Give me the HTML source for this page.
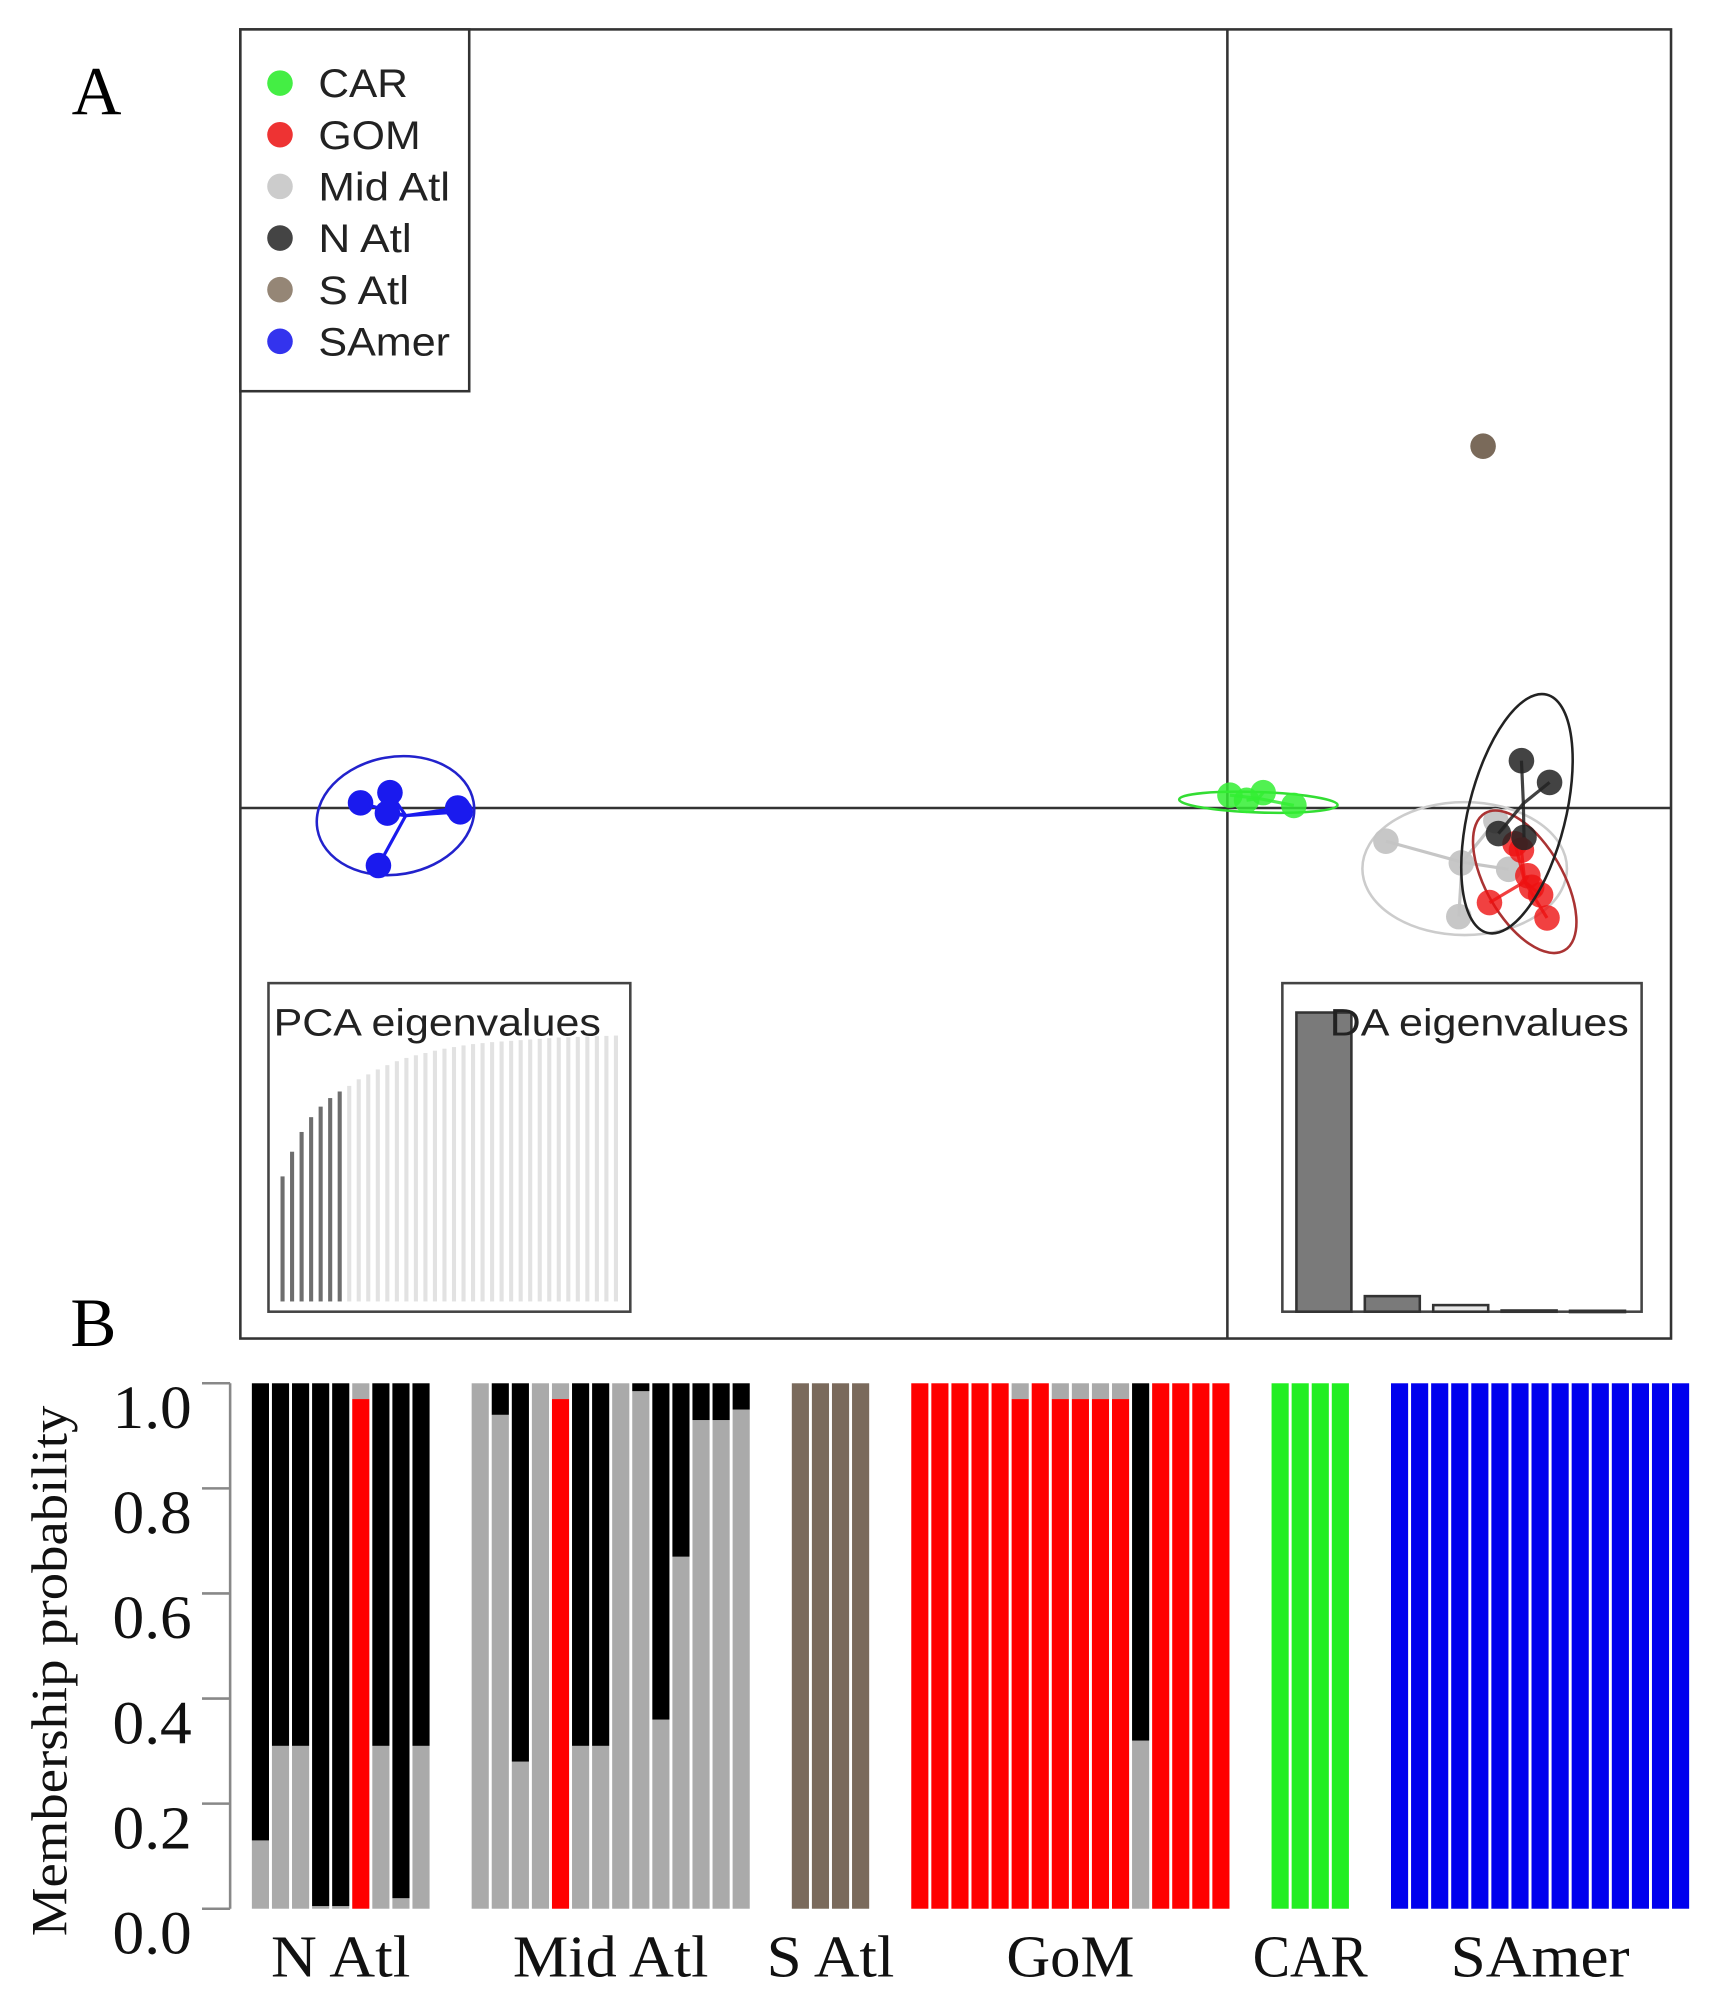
<!DOCTYPE html>
<html><head><meta charset="utf-8"><style>
html,body{margin:0;padding:0;background:#fff}
svg{display:block}
</style></head><body>
<svg id="fig" width="1726" height="2011" viewBox="0 0 1350 1573" preserveAspectRatio="none" xmlns="http://www.w3.org/2000/svg">
<rect x="0" y="0" width="1350" height="1573" fill="#fff"/>
<g id="panelA">
<text x="56" y="89" font-family="Liberation Serif, serif" font-size="54">A</text>
<rect x="188" y="23" width="1119" height="1024" fill="none" stroke="#333" stroke-width="2"/>
<line x1="960" y1="23" x2="960" y2="1047" stroke="#333" stroke-width="2"/>
<line x1="188" y1="632" x2="1307" y2="632" stroke="#333" stroke-width="2"/>
<g id="clusters"></g>
<g>
<rect x="188" y="23" width="179" height="283" fill="#fff" stroke="#333" stroke-width="2"/>
<g id="legendItems"></g>
</g>
<g>
<rect x="210" y="769" width="283" height="257" fill="#fff" stroke="#444" stroke-width="2"/>
<g id="pcaBars"></g>
<text x="214" y="810" textLength="256" lengthAdjust="spacingAndGlyphs" font-family="Liberation Sans, sans-serif" font-size="30" fill="#222">PCA eigenvalues</text>
</g>
<g>
<rect x="1003" y="769" width="281" height="257" fill="#fff" stroke="#444" stroke-width="2"/>
<g id="daBars"></g>
<text x="1040" y="810" textLength="234" lengthAdjust="spacingAndGlyphs" font-family="Liberation Sans, sans-serif" font-size="30" fill="#222">DA eigenvalues</text>
</g>
</g>
<g id="panelB">
<text x="55" y="1053" font-family="Liberation Serif, serif" font-size="54">B</text>
<text transform="translate(52,1307) rotate(-90)" text-anchor="middle" textLength="415" lengthAdjust="spacingAndGlyphs" font-family="Liberation Serif, serif" font-size="40" fill="#111">Membership probability</text>
<line x1="180" y1="1082" x2="180" y2="1493" stroke="#888" stroke-width="2"/>
<g id="yTicks"></g>
<g id="bars"></g>
<g id="groupLabels"></g>
</g>
</svg>
<script>
const NS="http://www.w3.org/2000/svg";
function mk(tag,attrs,parent){const e=document.createElementNS(NS,tag);for(const k in attrs)e.setAttribute(k,attrs[k]);parent.appendChild(e);return e;}

// ---------- Panel B data ----------
const groupNames=["N Atl","Mid Atl","S Atl","GoM","CAR","SAmer"];
const groupLabelWidths=[109,153,100,100,90,140];
// stacking order bottom to top
const clusterNames=["red","gray","black","brown","green","blue"];
const clusterColors=["#ff0000","#aaaaaa","#000000","#7a6a5c","#22ee22","#0000ee"];
// per-bar values: [red, gray, black, brown, green, blue]
const nAtlValues=[[0,0.13,0.87,0,0,0],[0,0.31,0.69,0,0,0],[0,0.31,0.69,0,0,0],[0,0.005,0.995,0,0,0],[0,0.005,0.995,0,0,0],[0.97,0.03,0,0,0,0],[0,0.31,0.69,0,0,0],[0,0.02,0.98,0,0,0],[0,0.31,0.69,0,0,0]];
const midAtlValues=[[0,1,0,0,0,0],[0,0.94,0.06,0,0,0],[0,0.28,0.72,0,0,0],[0,1,0,0,0,0],[0.97,0.03,0,0,0,0],[0,0.31,0.69,0,0,0],[0,0.31,0.69,0,0,0],[0,1,0,0,0,0],[0,0.985,0.015,0,0,0],[0,0.36,0.64,0,0,0],[0,0.67,0.33,0,0,0],[0,0.93,0.07,0,0,0],[0,0.93,0.07,0,0,0],[0,0.95,0.05,0,0,0]];
const sAtlValues=[[0,0,0,1,0,0],[0,0,0,1,0,0],[0,0,0,1,0,0],[0,0,0,1,0,0]];
const gomValues=[[1,0,0,0,0,0],[1,0,0,0,0,0],[1,0,0,0,0,0],[1,0,0,0,0,0],[1,0,0,0,0,0],[0.97,0.03,0,0,0,0],[1,0,0,0,0,0],[0.97,0.03,0,0,0,0],[0.97,0.03,0,0,0,0],[0.97,0.03,0,0,0,0],[0.97,0.03,0,0,0,0],[0,0.32,0.68,0,0,0],[1,0,0,0,0,0],[1,0,0,0,0,0],[1,0,0,0,0,0],[1,0,0,0,0,0]];
const carValues=[[0,0,0,0,1,0],[0,0,0,0,1,0],[0,0,0,0,1,0],[0,0,0,0,1,0]];
const samerValues=[[0,0,0,0,0,1],[0,0,0,0,0,1],[0,0,0,0,0,1],[0,0,0,0,0,1],[0,0,0,0,0,1],[0,0,0,0,0,1],[0,0,0,0,0,1],[0,0,0,0,0,1],[0,0,0,0,0,1],[0,0,0,0,0,1],[0,0,0,0,0,1],[0,0,0,0,0,1],[0,0,0,0,0,1],[0,0,0,0,0,1],[0,0,0,0,0,1]];
const yTickLabels=["0.0","0.2","0.4","0.6","0.8","1.0"];
const yTickValues=[0,0.2,0.4,0.6,0.8,1.0];

const yB=v=>1493-v*411;
const pitch=15.7, gapBars=1.95, x0=197, barW=13.4;
const gTicks=document.getElementById("yTicks");
yTickValues.forEach((v,i)=>{
  const t=mk("line",{x1:158,x2:180,y1:yB(v),y2:yB(v),stroke:"#888","stroke-width":2},gTicks);
  
  
  const l=mk("text",{x:150,y:yB(v)+35,"text-anchor":"end",textLength:62,lengthAdjust:"spacingAndGlyphs","font-family":"Liberation Serif, serif","font-size":48,fill:"#111"},gTicks);
  l.textContent=yTickLabels[i];
  
  
});
const allGroups=[nAtlValues,midAtlValues,sAtlValues,gomValues,carValues,samerValues];
const gBars=document.getElementById("bars");
const gLab=document.getElementById("groupLabels");
let slot=0;
allGroups.forEach((grp,gi)=>{
  const start=x0+slot*pitch;
  grp.forEach((vals)=>{
    const x=x0+slot*pitch;
    let cum=0;
    vals.forEach((v,ci)=>{
      if(v<=0)return;
      const r=mk("rect",{x:x,y:yB(cum+v),width:barW,height:yB(cum)-yB(cum+v),fill:clusterColors[ci]},gBars);
      
      
      cum+=v;
    });
    slot+=1;
  });
  const end=x0+(slot-1)*pitch+barW;
  const t=mk("text",{x:(start+end)/2,y:1546,"text-anchor":"middle",textLength:groupLabelWidths[gi],lengthAdjust:"spacingAndGlyphs","font-family":"Liberation Serif, serif","font-size":46,fill:"#111"},gLab);
  t.textContent=groupNames[gi];
  
  
  slot+=gapBars;
});

// ---------- Panel A ----------
const legendLabels=["CAR","GOM","Mid Atl","N Atl","S Atl","SAmer"];
const legendWidths=[70,80,103,73,71,103];
const legendColors=["#44ee44","#ee3333","#cccccc","#444444","#958676","#3333ee"];
const gLeg=document.getElementById("legendItems");
legendLabels.forEach((lab,i)=>{
  const y=65+i*40.4;
  const c=mk("circle",{cx:219,cy:y,r:10,fill:legendColors[i]},gLeg);
  
  
  const t=mk("text",{x:249,y:y+11,textLength:legendWidths[i],lengthAdjust:"spacingAndGlyphs","font-family":"Liberation Sans, sans-serif","font-size":31,fill:"#222"},gLeg);
  t.textContent=lab;
  
  
});

const xA=v=>960+v*100;
const yA=v=>632-v*100;
const samerX=[-6.78,-6.55,-6.57,-6.02,-6.64,-6.0];
const samerY=[0.04,0.12,-0.04,0.0,-0.45,-0.03];
const carX=[0.02,0.28,0.52,0.15];
const carY=[0.1,0.12,0.02,0.06];
const satlX=[2.0]; const satlY=[2.83];
const natlX=[2.3,2.52,2.32,2.12];
const natlY=[0.37,0.2,-0.23,-0.2];
const midX=[1.24,1.83,1.81,2.1,2.2];
const midY=[-0.26,-0.43,-0.85,-0.1,-0.48];
const gomX=[2.05,2.3,2.35,2.45,2.5,2.25,2.38];
const gomY=[-0.74,-0.33,-0.53,-0.68,-0.86,-0.28,-0.62];

const gC=document.getElementById("clusters");
function cluster(name,xs,ys,col,ell,alpha){
  const g=mk("g",{},gC);
  
  
  const mx=xs.reduce((a,b)=>a+b,0)/xs.length, my=ys.reduce((a,b)=>a+b,0)/ys.length;
  if(ell){
    const e=mk("ellipse",{cx:xA(mx)+ell[4],cy:yA(my)+ell[5],rx:ell[0],ry:ell[1],transform:`rotate(${ell[2]} ${xA(mx)+ell[4]} ${yA(my)+ell[5]})`,fill:"none",stroke:ell[3],"stroke-width":2},g);
    
    
  }
  xs.forEach((x,i)=>{
    const l=mk("line",{x1:xA(mx),y1:yA(my),x2:xA(x),y2:yA(ys[i]),stroke:col,"stroke-width":2.5,opacity:alpha},g);
    
    
  });
  xs.forEach((x,i)=>{
    const c=mk("circle",{cx:xA(x),cy:yA(ys[i]),r:10,fill:col,opacity:alpha},g);
    
    
  });
}
cluster("samer",samerX,samerY,"#1a1aee",[62,46,-10,"#2222cc",-8,0],1);
cluster("car",carX,carY,"#33ee33",[62,8,2,"#33dd33",0,3],0.85);
cluster("mid-atl",midX,midY,"#c4c4c4",[80,52,0,"#cccccc",2,5],0.95);
cluster("gom",gomX,gomY,"#ee1111",[30,62,-30,"#aa3333",0,0],0.8);
cluster("n-atl",natlX,natlY,"#222222",[38,96,14,"#222222",-5,8],0.85);
cluster("s-atl",satlX,satlY,"#7a6a5a",null,1);

// PCA eigenvalues inset
const pcaValues=[380,455,515,560,592,618,638,655,675,690,705,718,730,740,748,755,762,768,773,778,782,785,788,790,792,794,796,798,800,802,803,804,805,806,807,808];
const pcaRetained=7;
const gP=document.getElementById("pcaBars");
const pcaX=i=>221+i*7.45;
const pcaY=v=>1018-v*(1018-810)/808;
pcaValues.forEach((v,i)=>{
  const r=mk("rect",{x:pcaX(i)-1.6,y:pcaY(v),width:3.2,height:1018-pcaY(v),fill:i<pcaRetained?"#6e6e6e":"#e2e2e2"},gP);
  
  
});

// DA eigenvalues inset
const daValues=[100,5.2,2.2,0.4,0.3];
const gD=document.getElementById("daBars");
const daX=i=>1014+i*53.5;
const daY=v=>1026-v*(1026-792)/100;
daValues.forEach((v,i)=>{
  const r=mk("rect",{x:daX(i),y:daY(v),width:43,height:Math.max(1,1026-daY(v)),fill:i<2?"#7a7a7a":"#e8e8e8",stroke:"#333","stroke-width":2},gD);
  
  
});
</script>
</body></html>
